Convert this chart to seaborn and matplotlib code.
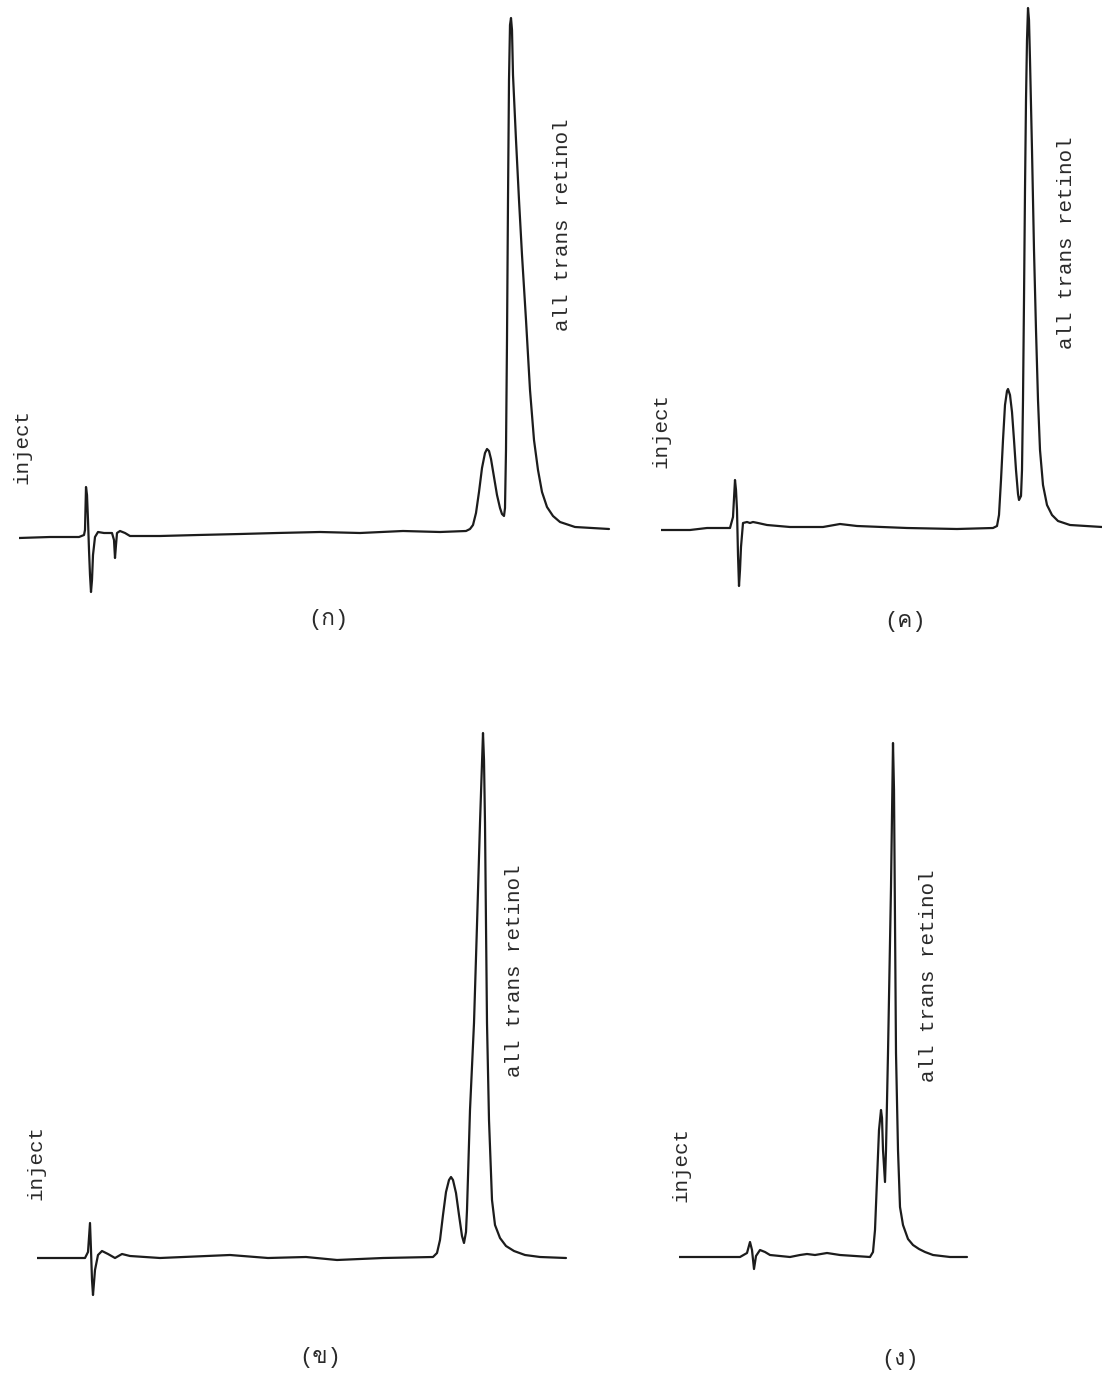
import numpy as np
import pandas as pd
import matplotlib
matplotlib.use("Agg")
import matplotlib.pyplot as plt
from matplotlib import font_manager
from matplotlib.ft2font import FT2Font
import seaborn as sns

# ---------------- data (chart distance along the trace, detector response) ----------------
# Panel (ก)
t_a = [0, 31, 60, 65, 66, 67, 68, 69, 70, 71, 72, 73, 74, 76, 79, 85, 93, 95, 96, 97, 98, 101,
       106, 111, 141, 179, 221, 258, 301, 341, 384, 421, 447, 451, 454, 457, 460, 463, 466, 468,
       470, 472, 475, 478, 481, 483, 485, 486, 487, 488, 489, 490, 491, 492, 493, 494, 497, 500,
       503, 507, 511, 515, 519, 523, 528, 534, 541, 556, 590]
r_a = [-3, -2, -2, 0, 5, 48, 40, 15, -15, -40, -57, -45, -20, -2, 3, 2, 2, -5, -23, -10, 2, 4,
       2, -1, -1, 0, 1, 2, 3, 2, 4, 3, 4, 6, 10, 22, 43, 67, 82, 86,
       84, 76, 58, 40, 27, 21, 19, 27, 85, 195, 335, 455, 510, 517, 505, 460, 395, 335,
       280, 215, 145, 95, 65, 43, 28, 19, 13, 8, 6]

# Panel (ค)
t_c = [0, 29, 46, 69, 72, 74, 75, 76, 77, 78, 79, 80, 82, 86, 89, 92, 97, 106, 129, 162, 179,
       196, 246, 296, 332, 336, 338, 340, 342, 344, 346, 347, 349, 351, 353, 355, 357, 358, 360,
       361, 362, 363, 364, 365, 366, 367, 368, 369, 371, 373, 375, 377, 379, 382, 386, 391, 397,
       409, 441]
r_c = [-2, -2, 0, 0, 11, 48, 38, 18, -27, -58, -42, -19, 5, 6, 5, 6, 5, 3, 1, 1, 4,
       2, 0, -1, 0, 2, 13, 48, 88, 123, 137, 139, 133, 116, 88, 58, 34, 28, 32,
       58, 128, 228, 338, 428, 488, 520, 508, 468, 378, 278, 198, 128, 78, 43, 23, 13, 7,
       3, 1]

# Panel (ข)
t_b = [0, 23, 48, 51, 53, 54, 55, 56, 58, 61, 65, 71, 78, 85, 93, 123, 193, 231, 269, 300, 346,
       396, 400, 403, 406, 409, 412, 414, 416, 419, 422, 425, 427, 429, 430, 433, 437, 440, 443,
       446, 447, 448, 449, 450, 452, 455, 458, 463, 469, 477, 488, 503, 529]
r_b = [0, 0, 0, 6, 35, 8, -22, -37, -12, 3, 7, 4, 0, 4, 2, 0, 3, 0, 1, -2, 0,
       1, 5, 18, 43, 66, 78, 81, 78, 65, 43, 22, 15, 26, 48, 148, 235, 333, 435,
       525, 498, 435, 333, 235, 138, 58, 33, 20, 12, 7, 3, 1, 0]

# Panel (ง)
t_d = [0, 21, 61, 68, 71, 73, 75, 77, 81, 86, 91, 101, 111, 121, 128, 136, 148, 161, 176, 191,
       194, 196, 198, 200, 202, 203, 204, 206, 207, 209, 212, 214, 215, 217, 219, 221, 224, 229,
       234, 240, 246, 254, 271, 288]
r_d = [0, 0, 0, 4, 15, 7, -12, 1, 7, 5, 2, 1, 0, 2, 3, 2, 4, 2, 1, 0,
       5, 27, 77, 127, 147, 139, 107, 75, 107, 204, 370, 514, 467, 204, 107, 50, 32, 18,
       12, 8, 5, 2, 0, 0]

panel_labels = ["(ก)", "(ค)", "(ข)", "(ง)"]
inject_label = "inject"
peak_label = "all trans retinol"

# ---------------- style ----------------
sns.set_theme(style="white")

W, H = 1102, 1375
fig = plt.figure(figsize=(W / 100, H / 100), dpi=100)
fig.patch.set_facecolor("white")

# find an installed font with Thai glyphs (fallback DejaVu Sans)
thai_family = None
for fe in font_manager.fontManager.ttflist:
    try:
        cm = FT2Font(fe.fname).get_charmap()
    except Exception:
        continue
    if 0x0E01 in cm and 0x0E04 in cm and 0x0E07 in cm:
        thai_family = fe.name
        break
mono = ["Liberation Mono", "DejaVu Sans Mono"]
label_family = ["Liberation Mono"] + ([thai_family] if thai_family else []) + ["DejaVu Sans"]

line_color = "#1c1c1c"
lw = 1.6


def panel(t, r, x0, w, top, bottom, base):
    """axes covering a pixel box; 1 data unit = 1 pixel"""
    ax = fig.add_axes([x0 / W, (H - bottom) / H, w / W, (bottom - top) / H])
    df = pd.DataFrame({"t": t, "r": r})
    sns.lineplot(data=df, x="t", y="r", ax=ax, color=line_color, linewidth=lw,
                 sort=False, estimator=None)
    ax.lines[-1].set_solid_joinstyle("round")
    ax.set_xlim(0, w)
    ax.set_ylim(base - bottom, base - top)
    ax.set_axis_off()
    return ax


panel(t_a, r_a, 19, 595, 0, 620, 535)
panel(t_c, r_c, 661, 441, 0, 620, 528)
panel(t_b, r_b, 37, 560, 690, 1320, 1258)
panel(t_d, r_d, 679, 300, 700, 1320, 1257)


def ftext(x, y, s, rot=0, family=None, size=15):
    fig.text(x / W, 1 - y / H, s, rotation=rot, ha="center", va="center",
             fontsize=size, family=family or mono, color="#2a2a2a")


# "inject" labels
ftext(22, 447, inject_label, 90)
ftext(661, 430, inject_label, 90)
ftext(36, 1163, inject_label, 90)
ftext(681, 1165, inject_label, 90)

# peak labels
ftext(563, 225, peak_label, 90)
ftext(1067, 243, peak_label, 90)
ftext(514, 971, peak_label, 90)
ftext(929, 976, peak_label, 90)

# panel labels
ftext(328, 620, panel_labels[0], family=label_family, size=16)
ftext(905, 622, panel_labels[1], family=label_family, size=16)
ftext(320, 1358, panel_labels[2], family=label_family, size=16)
ftext(900, 1360, panel_labels[3], family=label_family, size=16)

fig.savefig("out.png", dpi=100, facecolor="white")
